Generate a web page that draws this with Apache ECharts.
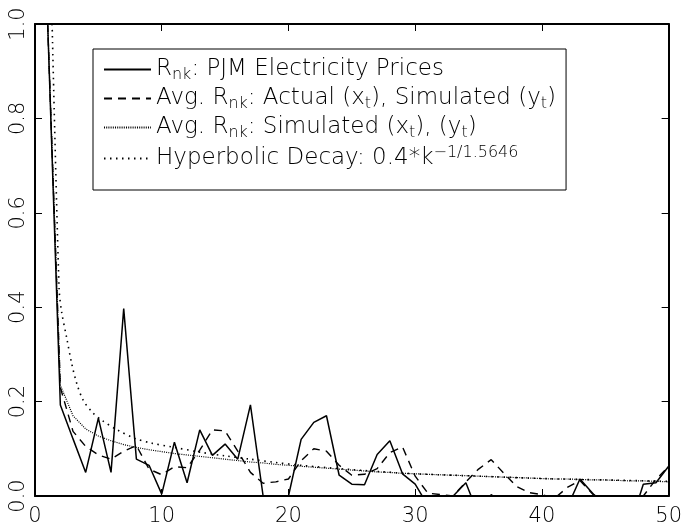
<!DOCTYPE html>
<html>
<head>
<meta charset="utf-8">
<script src="https://cdn.jsdelivr.net/npm/echarts@6/dist/echarts.min.js"></script>
<style>html,body{margin:0;padding:0;background:#fff;}#c{width:685px;height:527px;}</style>
</head>
<body>
<div id="c"></div>
<script>
// lag index k = 1..50
var lags = [];
for (var i = 1; i <= 50; i++) lags.push(i);

var pjm = [1.0,0.193,0.121,0.05,0.165,0.05,0.397,0.078,0.065,0.004,
  0.114,0.028,0.14,0.086,0.11,0.078,0.193,0.0,-0.03,0.0,
  0.12,0.156,0.17,0.044,0.025,0.024,0.088,0.117,0.047,0.025,
  -0.02,-0.02,0.0,0.028,-0.04,0.003,-0.02,-0.02,-0.02,-0.02,
  -0.02,-0.024,0.036,0.006,-0.024,-0.03,-0.06,0.025,0.028,0.063];

var avgActual = [1.0,0.23,0.137,0.105,0.087,0.078,0.095,0.107,0.057,0.045,
  0.062,0.06,0.097,0.14,0.138,0.095,0.05,0.027,0.03,0.036,
  0.075,0.1,0.095,0.065,0.044,0.046,0.058,0.092,0.104,0.042,
  0.006,0.003,0.0,0.03,0.057,0.077,0.048,0.02,0.007,0.003,
  -0.005,0.018,0.033,0.004,-0.01,-0.01,-0.01,0.0,0.035,0.063];

var avgSim = [1.0,0.235,0.17,0.142,0.127,0.117,0.109,0.103,0.098,0.094,
  0.09,0.087,0.084,0.081,0.078,0.075,0.072,0.07,0.067,0.065,
  0.063,0.061,0.059,0.057,0.055,0.053,0.051,0.05,0.048,0.047,
  0.046,0.045,0.044,0.043,0.042,0.041,0.04,0.039,0.038,0.037,
  0.036,0.036,0.035,0.034,0.034,0.033,0.032,0.032,0.031,0.03];

var hypK = [1.35,1.9,2.1,2.5,2.9,3.3,3.8,4.5,5.25,6.5,7.9,9.2,10.8,13,15,17,19,21,24,27,30,33,36,40,45,50];
var hypV = [1.0,0.44,0.39,0.335,0.28,0.238,0.203,0.178,0.161,0.14,0.122,0.112,0.104,0.093,0.085,0.078,0.071,0.065,0.058,0.052,0.047,0.044,0.041,0.037,0.034,0.031];

var xTicks = [0,10,20,30,40,50];
var yTicks = [0.0,0.2,0.4,0.6,0.8,1.0];

function pairs(xs, ys){ return xs.map(function(x,i){ return [x, ys[i]]; }); }

var FONT = 'DejaVu Sans';
var FW = 200;
var labels = {
  pjm: '{n|R}{sub|nk}{n|: PJM Electricity Prices}',
  act: '{n|Avg. R}{sub|nk}{n|: Actual (x}{sub|t}{n|), Simulated (y}{sub|t}{n|)}',
  sim: '{n|Avg. R}{sub|nk}{n|: Simulated (x}{sub|t}{n|), (y}{sub|t}{n|)}',
  hyp: '{n|Hyperbolic Decay: 0.4*k}{sup|\u22121/1.5646}'
};

var chart = echarts.init(document.getElementById('c'), null, {renderer: 'canvas'});
function axisCommon(){
  return {
    axisLine: {show: true, onZero: false, lineStyle: {color: '#000', width: 2}},
    axisTick: {show: true, inside: true, length: 7, lineStyle: {color: '#000', width: 1}},
    splitLine: {show: false}
  };
}
chart.setOption({
  animation: false,
  backgroundColor: '#fff',
  grid: {left: 35, right: 15, top: 24, bottom: 27, containLabel: false},
  xAxis: [
    Object.assign({type: 'value', min: 0, max: 50, interval: 10, position: 'bottom',
      axisLabel: {color: '#000', fontFamily: FONT, fontWeight: FW, fontSize: 21, margin: 10}}, axisCommon()),
    Object.assign({type: 'value', min: 0, max: 50, interval: 10, position: 'top',
      axisLabel: {show: false}}, axisCommon())
  ],
  yAxis: [
    Object.assign({type: 'value', min: 0, max: 1, interval: 0.2, position: 'left',
      axisLabel: {color: '#000', fontFamily: FONT, fontWeight: FW, fontSize: 21, rotate: 90, margin: 6,
        formatter: function(v){ return v.toFixed(1); }}}, axisCommon()),
    Object.assign({type: 'value', min: 0, max: 1, interval: 0.2, position: 'right',
      axisLabel: {show: false}}, axisCommon())
  ],
  legend: {
    show: true,
    orient: 'vertical', left: 93, top: 49,
    padding: [9, 10, 20, 10],
    itemWidth: 47, itemHeight: 14, itemGap: 4,
    borderColor: '#000', borderWidth: 1,
    itemStyle: {color: 'rgba(0,0,0,0)', borderWidth: 0, opacity: 0},
    data: ['pjm','act','sim','hyp'],
    formatter: function(name){ return labels[name]; },
    textStyle: {
      color: '#000', fontFamily: FONT, fontWeight: FW, fontSize: 23,
      rich: {
        n: {fontFamily: FONT, fontWeight: FW, fontSize: 23, color: '#000'},
        sub: {fontFamily: FONT, fontWeight: FW, fontSize: 16, color: '#000', padding: [11,0,0,0]},
        sup: {fontFamily: FONT, fontWeight: FW, fontSize: 16, color: '#000', padding: [0,0,11,0]}
      }
    }
  },
  series: [
    {name: 'pjm', type: 'line', data: pairs(lags, pjm), symbol: 'none', clip: true,
      itemStyle: {color: '#000'},
      lineStyle: {color: '#000', width: 1.5, type: 'solid'}},
    {name: 'act', type: 'line', data: pairs(lags, avgActual), symbol: 'none', clip: true,
      itemStyle: {color: '#000'},
      lineStyle: {color: '#000', width: 1.4, type: [8, 6]}},
    {name: 'sim', type: 'line', data: pairs(lags, avgSim), symbol: 'none', clip: true,
      itemStyle: {color: '#000'},
      lineStyle: {color: '#000', width: 1.2, type: [1, 1.2]}},
    {name: 'hyp', type: 'line', data: pairs(hypK, hypV), symbol: 'none', clip: true, smooth: 0.3,
      itemStyle: {color: '#000'},
      lineStyle: {color: '#000', width: 1.6, type: [1.5, 4.5]}}
  ]
});
</script>
</body>
</html>
